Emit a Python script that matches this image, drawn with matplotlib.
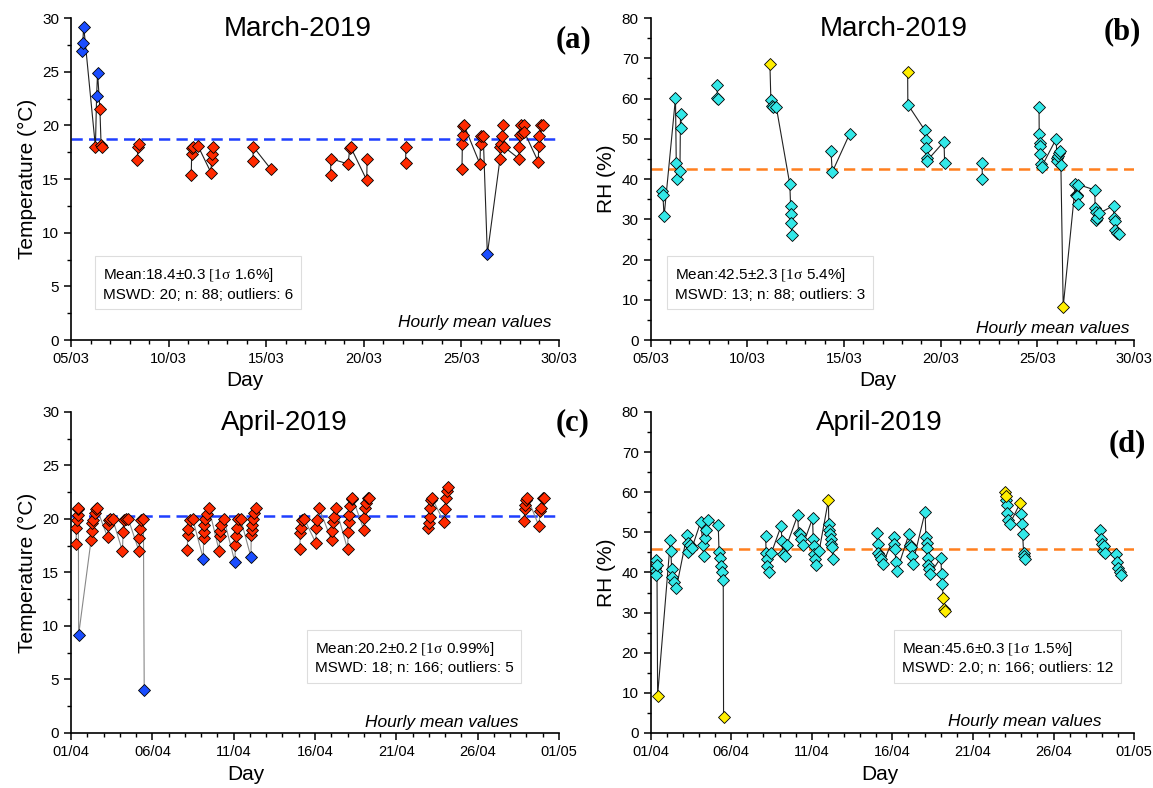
import numpy as np
import matplotlib
matplotlib.use('Agg')
import matplotlib.pyplot as plt
from matplotlib.ticker import FixedLocator, MultipleLocator

plt.rcParams['font.family'] = ['Liberation Sans', 'DejaVu Sans']
plt.rcParams['mathtext.fontset'] = 'custom'
plt.rcParams['mathtext.rm'] = 'Liberation Serif'
plt.rcParams['mathtext.it'] = 'Liberation Serif'

# ---- data (day of month, value, outlier flag) ----
mar_t_day = [5.55, 5.60, 5.65, 6.25, 6.31, 6.36, 6.48, 6.54, 6.58,
             8.40, 8.43, 8.50,
             11.16, 11.18, 11.22, 11.26, 11.50, 12.17, 12.20, 12.23, 12.27,
             14.32, 14.34, 15.25,
             18.30, 18.31, 19.20, 19.28, 19.32, 20.15, 20.17,
             22.14, 22.16,
             25.03, 25.05, 25.08, 25.10, 25.14, 25.95, 25.98, 26.02, 26.12, 26.33,
             26.98, 27.00, 27.04, 27.08, 27.14, 27.18, 27.95, 27.97, 27.99, 28.03,
             28.10, 28.20, 28.22, 28.94, 28.96, 28.99, 29.10, 29.20]
mar_t_val = [26.9, 27.7, 29.2, 18.0, 22.7, 24.9, 21.5, 18.2, 18.0,
             16.8, 18.0, 18.3,
             15.4, 17.3, 17.9, 18.0, 18.1, 15.6, 16.8, 17.3, 18.0,
             16.7, 18.0, 15.9,
             15.4, 16.9, 16.4, 17.9, 18.0, 14.9, 16.9,
             16.5, 18.0,
             15.9, 18.3, 19.1, 19.9, 20.0, 16.4, 18.3, 19.0, 19.0, 8.0,
             16.9, 18.0, 18.3, 19.0, 20.0, 18.0, 16.9, 18.0, 19.1, 20.0,
             19.3, 20.0, 19.4, 16.6, 18.1, 19.0, 20.0, 20.0]
mar_t_out = [1, 1, 1, 0, 1, 1, 0, 0, 0,
             0, 0, 0,
             0, 0, 0, 0, 0, 0, 0, 0, 0,
             0, 0, 0,
             0, 0, 0, 0, 0, 0, 0,
             0, 0,
             0, 0, 0, 0, 0, 0, 0, 0, 0, 1,
             0, 0, 0, 0, 0, 0, 0, 0, 0, 0,
             0, 0, 0, 0, 0, 0, 0, 0]

mar_rh_day = [5.57, 5.64, 5.70, 6.29, 6.33, 6.38, 6.52, 6.55, 6.60,
              8.43, 8.46, 8.50,
              11.17, 11.22, 11.28, 11.33, 11.50, 12.20, 12.24, 12.26, 12.28, 12.30,
              14.33, 14.39, 15.29,
              18.29, 18.30, 19.18, 19.22, 19.25, 19.28, 19.30, 20.17, 20.20,
              22.14, 22.15,
              25.08, 25.09, 25.11, 25.13, 25.14, 25.16, 25.22, 25.97, 26.00, 26.03,
              26.08, 26.12, 26.17, 26.21, 26.33,
              26.96, 26.99, 27.03, 27.06, 27.08, 27.12, 27.96, 27.98, 28.00, 28.03,
              28.06, 28.20, 28.93, 28.96, 28.99, 29.03, 29.12, 29.20]
mar_rh_val = [37.1, 36.1, 30.7, 60.1, 44.1, 40.0, 42.0, 56.2, 52.6,
              63.3, 60.2, 60.0,
              68.7, 59.7, 58.2, 58.0, 57.9, 38.7, 33.3, 31.3, 29.0, 26.0,
              47.0, 41.7, 51.2,
              66.7, 58.5, 52.1, 49.8, 47.6, 45.2, 44.6, 49.3, 44.1,
              43.9, 40.0,
              58.0, 51.2, 48.9, 48.3, 46.2, 43.8, 43.1, 50.0, 45.2, 44.4,
              45.6, 46.4, 46.9, 43.5, 8.3,
              38.7, 36.1, 36.1, 35.7, 33.7, 38.6, 37.3, 32.8, 31.9, 29.7,
              30.3, 31.5, 33.4, 30.3, 29.6, 27.4, 26.7, 26.3]
mar_rh_out = [0, 0, 0, 0, 0, 0, 0, 0, 0,
              0, 0, 0,
              1, 0, 0, 0, 0, 0, 0, 0, 0, 0,
              0, 0, 0,
              1, 0, 0, 0, 0, 0, 0, 0, 0,
              0, 0,
              0, 0, 0, 0, 0, 0, 0, 0, 0, 0,
              0, 0, 0, 0, 1,
              0, 0, 0, 0, 0, 0, 0, 0, 0, 0,
              0, 0, 0, 0, 0, 0, 0, 0]

apr_t_day = [1.31, 1.33, 1.36, 1.40, 1.42, 1.45, 1.47,
             2.23, 2.27, 2.31, 2.37, 2.45, 2.52, 2.58,
             3.25, 3.29, 3.33, 3.42, 3.56,
             4.16, 4.20, 4.24, 4.35, 4.52,
             5.18, 5.20, 5.22, 5.28, 5.45, 5.50,
             8.15, 8.17, 8.21, 8.30, 8.48,
             9.13, 9.15, 9.17, 9.20, 9.24, 9.33, 9.48,
             10.11, 10.13, 10.16, 10.22, 10.40,
             11.08, 11.10, 11.13, 11.18, 11.25, 11.43,
             12.06, 12.08, 12.10, 12.14, 12.20, 12.28, 12.37,
             15.07, 15.09, 15.12, 15.22, 15.34,
             16.04, 16.08, 16.14, 16.26,
             17.02, 17.06, 17.10, 17.16, 17.29,
             18.00, 18.04, 18.08, 18.12, 18.18, 18.25, 18.30,
             19.00, 19.04, 19.08, 19.15, 19.28, 19.33,
             22.96, 23.00, 23.04, 23.08, 23.13, 23.18,
             23.93, 23.97, 24.04, 24.10, 24.18,
             28.86, 28.90, 28.94, 29.00, 29.06,
             29.78, 29.82, 29.88, 30.00, 30.06]
apr_t_val = [17.7, 19.2, 19.9, 20.4, 20.9, 21.0, 9.2,
             18.0, 18.9, 19.6, 19.9, 20.6, 20.9, 21.0,
             18.3, 19.4, 19.9, 20.0, 20.0,
             17.0, 18.75, 19.9, 20.0, 20.0,
             17.0, 18.2, 19.1, 19.9, 20.0, 4.0,
             17.1, 18.5, 19.1, 19.9, 20.0,
             16.3, 18.2, 18.75, 19.4, 20.0, 20.5, 21.0,
             17.0, 18.4, 18.9, 19.4, 20.0,
             15.95, 17.6, 18.4, 19.2, 20.0, 20.0,
             16.45, 18.5, 19.0, 19.4, 20.0, 20.6, 21.0,
             17.2, 18.7, 19.2, 19.9, 20.0,
             17.8, 19.2, 19.9, 21.0,
             18.0, 18.9, 19.7, 20.2, 21.0,
             17.2, 18.75, 19.7, 20.4, 21.2, 21.9, 22.0,
             19.0, 20.1, 21.0, 21.5, 22.0, 22.0,
             19.2, 19.6, 20.2, 21.0, 21.8, 22.0,
             19.7, 20.9, 22.0, 22.6, 23.0,
             19.8, 20.9, 21.3, 21.8, 22.0,
             19.3, 20.7, 21.0, 22.0, 22.0]
apr_t_out = [0, 0, 0, 0, 0, 0, 1,
             0, 0, 0, 0, 0, 0, 0,
             0, 0, 0, 0, 0,
             0, 0, 0, 0, 0,
             0, 0, 0, 0, 0, 1,
             0, 0, 0, 0, 0,
             1, 0, 0, 0, 0, 0, 0,
             0, 0, 0, 0, 0,
             1, 0, 0, 0, 0, 0,
             1, 0, 0, 0, 0, 0, 0,
             0, 0, 0, 0, 0,
             0, 0, 0, 0,
             0, 0, 0, 0, 0,
             0, 0, 0, 0, 0, 0, 0,
             0, 0, 0, 0, 0, 0,
             0, 0, 0, 0, 0, 0,
             0, 0, 0, 0, 0,
             0, 0, 0, 0, 0,
             0, 0, 0, 0, 0]

apr_rh_day = [1.28, 1.31, 1.34, 1.37, 1.40, 1.44,
              2.23, 2.26, 2.31, 2.36, 2.45, 2.60,
              3.26, 3.30, 3.35, 3.45, 3.56,
              4.12, 4.25, 4.30, 4.38, 4.45, 4.55,
              5.20, 5.25, 5.30, 5.36, 5.43, 5.51, 5.53,
              8.14, 8.17, 8.20, 8.25, 8.35, 8.49,
              9.10, 9.15, 9.22, 9.32, 9.45,
              10.13, 10.18, 10.25, 10.35, 10.45,
              11.05, 11.09, 11.12, 11.16, 11.20, 11.26, 11.46,
              12.03, 12.06, 12.10, 12.14, 12.18, 12.22, 12.27, 12.34,
              15.05, 15.08, 15.13, 15.22, 15.30, 15.40,
              16.08, 16.12, 16.16, 16.22, 16.28,
              17.04, 17.10, 17.14, 17.20, 17.25,
              18.03, 18.08, 18.12, 18.16, 18.20, 18.24, 18.28, 18.33,
              19.01, 19.05, 19.10, 19.15, 19.22, 19.26,
              23.00, 23.02, 23.05, 23.09, 23.12, 23.18, 23.27,
              23.94, 23.98, 24.02, 24.08, 24.14, 24.18, 24.24,
              28.90, 28.95, 29.00, 29.05, 29.12, 29.20,
              29.88, 29.95, 30.02, 30.10, 30.17]
apr_rh_val = [41.0, 43.1, 40.4, 39.3, 41.8, 9.3,
              48.0, 45.4, 40.8, 38.9, 37.6, 36.1,
              49.3, 47.4, 45.0, 46.8, 46.0,
              52.7, 46.8, 44.1, 48.7, 50.7, 53.1,
              51.8, 45.1, 43.7, 41.6, 40.2, 38.1, 3.9,
              49.1, 44.9, 43.3, 41.6, 40.0, 44.8,
              51.6, 47.8, 44.5, 44.1, 46.8,
              54.3, 49.9, 49.5, 48.3, 46.8,
              53.5, 48.3, 46.6, 44.5, 43.3, 41.8, 45.4,
              58.0, 52.0, 50.7, 49.5, 48.3, 47.2, 46.4, 43.4,
              49.9, 47.0, 44.8, 44.1, 43.3, 42.0,
              48.8, 47.0, 45.9, 42.5, 40.4,
              49.7, 46.8, 46.4, 44.1, 42.0,
              55.1, 48.8, 47.4, 46.0, 43.7, 41.9, 40.8, 39.6,
              43.7, 39.7, 37.1, 33.6, 31.0, 30.4,
              60.1, 59.0, 58.0, 56.7, 54.9, 53.2, 52.0,
              57.4, 54.5, 52.0, 49.5, 44.9, 44.1, 43.3,
              50.7, 48.3, 47.0, 45.4, 46.6, 44.8,
              44.5, 42.6, 41.0, 40.0, 39.4]
apr_rh_out = [0, 0, 0, 0, 0, 1,
              0, 0, 0, 0, 0, 0,
              0, 0, 0, 0, 0,
              0, 0, 0, 0, 0, 0,
              0, 0, 0, 0, 0, 0, 1,
              0, 0, 0, 0, 0, 0,
              0, 0, 0, 0, 0,
              0, 0, 0, 0, 0,
              0, 0, 0, 0, 0, 0, 0,
              1, 0, 0, 0, 0, 0, 0, 0,
              0, 0, 0, 0, 0, 0,
              0, 0, 0, 0, 0,
              0, 0, 0, 0, 0,
              0, 0, 0, 0, 0, 0, 0, 0,
              0, 0, 0, 1, 1, 1,
              1, 1, 0, 0, 0, 0, 0,
              1, 0, 0, 0, 0, 0, 0,
              0, 0, 0, 0, 0, 0,
              0, 0, 0, 0, 0]

mean_lines = [18.7, 42.6, 20.25, 45.8]

mar_ticks = [5, 10, 15, 20, 25, 30]
mar_labels = ['05/03', '10/03', '15/03', '20/03', '25/03', '30/03']
apr_ticks = [1, 6, 11, 16, 21, 26, 31]
apr_labels = ['01/04', '06/04', '11/04', '16/04', '21/04', '26/04', '01/05']

titles = ['March-2019', 'March-2019', 'April-2019', 'April-2019']
stats = ['Mean:18.4±0.3 $\\mathrm{[1\\sigma}$ 1.6%]\nMSWD: 20; n: 88; outliers: 6',
         'Mean:42.5±2.3 $\\mathrm{[1\\sigma}$ 5.4%]\nMSWD: 13; n: 88; outliers: 3',
         'Mean:20.2±0.2 $\\mathrm{[1\\sigma}$ 0.99%]\nMSWD: 18; n: 166; outliers: 5',
         'Mean:45.6±0.3 $\\mathrm{[1\\sigma}$ 1.5%]\nMSWD: 2.0; n: 166; outliers: 12']


def with_gaps(x, y, gap=1.2):
    # break the connecting line where there are no measurements for a while
    x = np.asarray(x, float)
    y = np.asarray(y, float)
    idx = np.where(np.diff(x) > gap)[0] + 1
    return np.insert(x, idx, np.nan), np.insert(y, idx, np.nan)


def draw_panel(ax, day, val, out, fill, out_fill, line_col, mean, mean_col):
    day = np.asarray(day)
    val = np.asarray(val)
    out = np.asarray(out, bool)
    xl, yl = with_gaps(day, val)
    ax.plot(xl, yl, color=line_col, lw=0.8, zorder=2)
    ax.axhline(mean, color=mean_col, lw=1.8, ls=(0, (4.5, 2.5)), zorder=1)
    ax.plot(day[~out], val[~out], ls='none', marker='D', ms=6, mfc=fill,
            mec='black', mew=0.6, zorder=3)
    ax.plot(day[out], val[out], ls='none', marker='D', ms=6, mfc=out_fill,
            mec='black', mew=0.6, zorder=4)
    for s in ['top', 'right']:
        ax.spines[s].set_visible(False)
    for s in ['left', 'bottom']:
        ax.spines[s].set_linewidth(1.2)
    ax.tick_params(which='major', direction='out', length=5, width=1.1, labelsize=11)
    ax.tick_params(axis='x', which='major', labelsize=10.5)
    ax.tick_params(which='minor', direction='out', length=3, width=1.0)
    ax.xaxis.set_minor_locator(MultipleLocator(1))


fig = plt.figure(figsize=(11.53, 7.88), dpi=100)
ax_a = fig.add_axes([0.0616, 0.5685, 0.4232, 0.4086])
ax_b = fig.add_axes([0.5642, 0.5685, 0.4195, 0.4086])
ax_c = fig.add_axes([0.0616, 0.0698, 0.4232, 0.4074])
ax_d = fig.add_axes([0.5642, 0.0698, 0.4195, 0.4074])

red = '#ff2a00'
blue = '#1a4dff'
cyan = '#33e8e8'
yellow = '#ffee00'

draw_panel(ax_a, mar_t_day, mar_t_val, mar_t_out, red, blue, '#222222', mean_lines[0], '#1f3fff')
draw_panel(ax_b, mar_rh_day, mar_rh_val, mar_rh_out, cyan, yellow, '#222222', mean_lines[1], '#ff7f1e')
draw_panel(ax_c, apr_t_day, apr_t_val, apr_t_out, red, blue, '#888888', mean_lines[2], '#1f3fff')
draw_panel(ax_d, apr_rh_day, apr_rh_val, apr_rh_out, cyan, yellow, '#222222', mean_lines[3], '#ff7f1e')

for ax in [ax_a, ax_b]:
    ax.set_xlim(5, 30)
    ax.xaxis.set_major_locator(FixedLocator(mar_ticks))
    ax.set_xticklabels(mar_labels)
for ax in [ax_c, ax_d]:
    ax.set_xlim(1, 31)
    ax.xaxis.set_major_locator(FixedLocator(apr_ticks))
    ax.set_xticklabels(apr_labels)

for ax in [ax_a, ax_c]:
    ax.set_ylim(0, 30)
    ax.yaxis.set_major_locator(MultipleLocator(5))
    ax.yaxis.set_minor_locator(MultipleLocator(2.5))
    ax.set_ylabel('Temperature (°C)', fontsize=15)
for ax in [ax_b, ax_d]:
    ax.set_ylim(0, 80)
    ax.yaxis.set_major_locator(MultipleLocator(10))
    ax.yaxis.set_minor_locator(MultipleLocator(5))
    ax.set_ylabel('RH (%)', fontsize=15)

axes = [ax_a, ax_b, ax_c, ax_d]
title_x = [0.464, 0.502, 0.437, 0.474]
day_x = [0.357, 0.471, 0.359, 0.474]
day_y = [-0.095, -0.095, -0.10, -0.10]
box_pos = [(0.065, 0.175), (0.05, 0.175), (0.50, 0.235), (0.52, 0.235)]
hourly_pos = [(0.985, 0.053), (0.99, 0.037), (0.918, 0.032), (0.932, 0.036)]

for i, ax in enumerate(axes):
    ax.text(title_x[i], 0.965, titles[i], transform=ax.transAxes, fontsize=20,
            ha='center', va='center')
    ax.set_xlabel('Day', fontsize=15)
    ax.xaxis.set_label_coords(day_x[i], day_y[i])
    ax.text(box_pos[i][0], box_pos[i][1], stats[i], transform=ax.transAxes,
            fontsize=11, ha='left', va='center', linespacing=1.35,
            bbox=dict(boxstyle='square,pad=0.5', fc='white', ec='#dddddd', lw=0.8))
    ax.text(hourly_pos[i][0], hourly_pos[i][1], 'Hourly mean values',
            transform=ax.transAxes, fontsize=12.5, style='italic',
            ha='right', va='center')

panel_letters = ['(a)', '(b)', '(c)', '(d)']
letter_pos = [(0.497, 0.949), (0.973, 0.96), (0.497, 0.464), (0.978, 0.437)]
for lab, (x, y) in zip(panel_letters, letter_pos):
    fig.text(x, y, lab, fontsize=22, fontweight='bold', family='Liberation Serif',
             ha='center', va='center')

plt.savefig('out.png', dpi=100)
plt.close()
